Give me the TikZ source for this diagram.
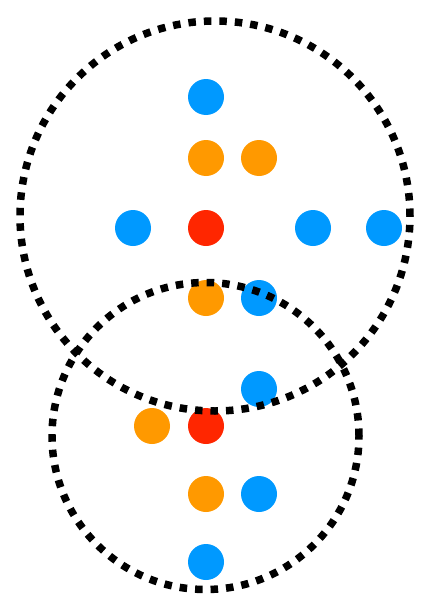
\documentclass[tikz,border=0pt]{standalone}
\usepackage{tikz}
\usetikzlibrary{positioning}

\definecolor{dotblue}{HTML}{0099FF}
\definecolor{dotorange}{HTML}{FF9900}
\definecolor{dotred}{HTML}{FF2600}

\tikzset{
    dot/.style={circle, minimum size=36pt, inner sep=0pt, draw=none},
    bluedot/.style={dot, fill=dotblue},
    orangedot/.style={dot, fill=dotorange},
    reddot/.style={dot, fill=dotred},
    ring/.style={circle, draw=black, line width=7.5pt, dash pattern=on 7.5pt off 8pt, inner sep=0pt}
}

\begin{document}
\begin{tikzpicture}[x=1pt,y=-1pt]
    \useasboundingbox (0,0) rectangle (421,597);
    % upper group
    \node[bluedot] (b1) at (206,97) {};
    \node[orangedot] (o1) at (206,158) {};
    \node[orangedot] (o2) at (259,158) {};
    \node[bluedot] (b2) at (133,228) {};
    \node[reddot] (r1) at (206,228) {};
    \node[bluedot] (b3) at (313,228) {};
    \node[bluedot] (b4) at (384,228) {};
    \node[orangedot] (o3) at (206,298) {};
    \node[bluedot] (b5) at (259,298) {};
    % lower group
    \node[bluedot] (b6) at (259,389) {};
    \node[orangedot] (o4) at (152,426) {};
    \node[reddot] (r2) at (206,426) {};
    \node[orangedot] (o5) at (206,494) {};
    \node[bluedot] (b7) at (259,494) {};
    \node[bluedot] (b8) at (206,562) {};
    % dotted rings
    \node[ring, minimum size=390pt] (bigring) at (215,216) {};
    \node[ring, minimum size=307pt] (smallring) at (205.5,436) {};
\end{tikzpicture}
\end{document}
